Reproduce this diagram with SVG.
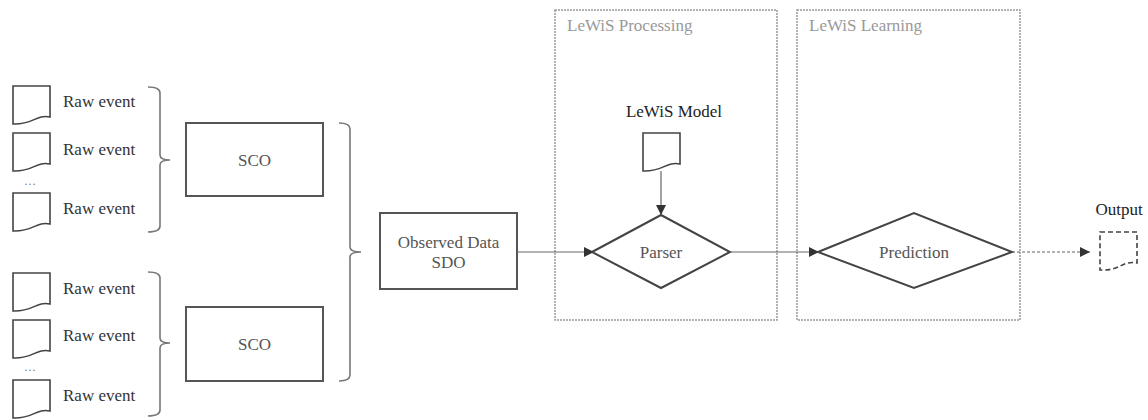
<svg xmlns="http://www.w3.org/2000/svg" width="1148" height="420" viewBox="0 0 1148 420" font-family="'Liberation Serif', 'DejaVu Serif', serif" font-size="17">
<style>
.lbl{fill:#333;}
.gl{fill:#555;text-anchor:middle;}
.ttl{fill:#999;}
.doc{fill:#fff;stroke:#444;stroke-width:1.6;}
.brk{fill:none;stroke:#777;stroke-width:1.6;}
.box{fill:#fff;stroke:#555;stroke-width:2;}
.dia{fill:#fff;stroke:#444;stroke-width:2;}
.grp{fill:none;stroke:#999;stroke-width:1.5;stroke-dasharray:2 1;}
.con{fill:none;stroke:#666;stroke-width:1.2;}
.dots{fill:#777;font-size:12px;}
</style>
<defs>
<marker id="ah" viewBox="0 0 10 10" refX="10" refY="5" markerWidth="10" markerHeight="10" markerUnits="userSpaceOnUse" orient="auto">
<path d="M0,0 L10,5 L0,10 z" fill="#333"/>
</marker>
<path id="docshape" d="M0,0 H37 V31 C23,28 20,39 0,38 Z"/>
</defs>

<g id="group-processing">
<rect class="grp" x="555" y="10" width="222" height="310"/>
<text class="ttl" x="567" y="31">LeWiS Processing</text>
</g>
<g id="group-learning">
<rect class="grp" x="797" y="10" width="223" height="310"/>
<text class="ttl" x="809" y="31">LeWiS Learning</text>
</g>

<g id="raw1"><use href="#docshape" class="doc" x="13" y="86"/><text class="lbl" x="63" y="107">Raw event</text></g>
<g id="raw2"><use href="#docshape" class="doc" x="13" y="133"/><text class="lbl" x="63" y="155">Raw event</text></g>
<text class="dots" x="24" y="185">…</text>
<g id="raw3"><use href="#docshape" class="doc" x="13" y="193"/><text class="lbl" x="63" y="214">Raw event</text></g>

<g id="raw4"><use href="#docshape" class="doc" x="13" y="273"/><text class="lbl" x="63" y="294">Raw event</text></g>
<g id="raw5"><use href="#docshape" class="doc" x="13" y="320"/><text class="lbl" x="63" y="341">Raw event</text></g>
<text class="dots" x="24" y="371">…</text>
<g id="raw6"><use href="#docshape" class="doc" x="13" y="380"/><text class="lbl" x="63" y="401">Raw event</text></g>

<g id="brackets">
<path class="brk" d="M148,87 Q160,87 160,93 V155 Q160,160 170,160 Q160,160 160,165 V226 Q160,232 148,232"/>
<path class="brk" d="M148,272 Q160,272 160,278 V338 Q160,343 170,343 Q160,343 160,348 V410 Q160,416 148,416"/>
<path class="brk" d="M339,123 Q350,123 350,129 V247 Q350,252 361,252 Q350,252 350,257 V375 Q350,381 339,381"/>
</g>

<g id="sco1"><rect class="box" x="186" y="123" width="137" height="73"/><text class="gl" x="254.5" y="166">SCO</text></g>
<g id="sco2"><rect class="box" x="186" y="307" width="137" height="74"/><text class="gl" x="254.5" y="350">SCO</text></g>

<g id="sdo"><rect class="box" x="380" y="213" width="137" height="76"/>
<text class="gl" x="448.5" y="248">Observed Data</text>
<text class="gl" x="448.5" y="268">SDO</text></g>

<g id="model">
<text x="674" y="117" fill="#222" text-anchor="middle">LeWiS Model</text>
<use href="#docshape" class="doc" x="643" y="133"/>
</g>

<g id="parser"><polygon class="dia" points="592,252 661,215 730,252 661,288"/><text class="gl" x="661" y="258">Parser</text></g>
<g id="prediction"><polygon class="dia" points="818,252 914,213 1012,252 914,288"/><text class="gl" x="914" y="258">Prediction</text></g>

<g id="output">
<text x="1119" y="215" fill="#222" text-anchor="middle">Output</text>
<path d="M1100,232 H1137 V263 C1123,260 1120,271 1100,270 Z" fill="#fff" stroke="#444" stroke-width="1.6" stroke-dasharray="5 3"/>
</g>

<g id="connectors">
<line class="con" x1="517" y1="252" x2="594" y2="252" marker-end="url(#ah)"/>
<line class="con" x1="661" y1="171" x2="661" y2="215" marker-end="url(#ah)"/>
<line class="con" x1="730" y1="252" x2="819" y2="252" marker-end="url(#ah)"/>
<line class="con" x1="1012" y1="252" x2="1090" y2="252" stroke-dasharray="3 2" marker-end="url(#ah)"/>
</g>
</svg>
